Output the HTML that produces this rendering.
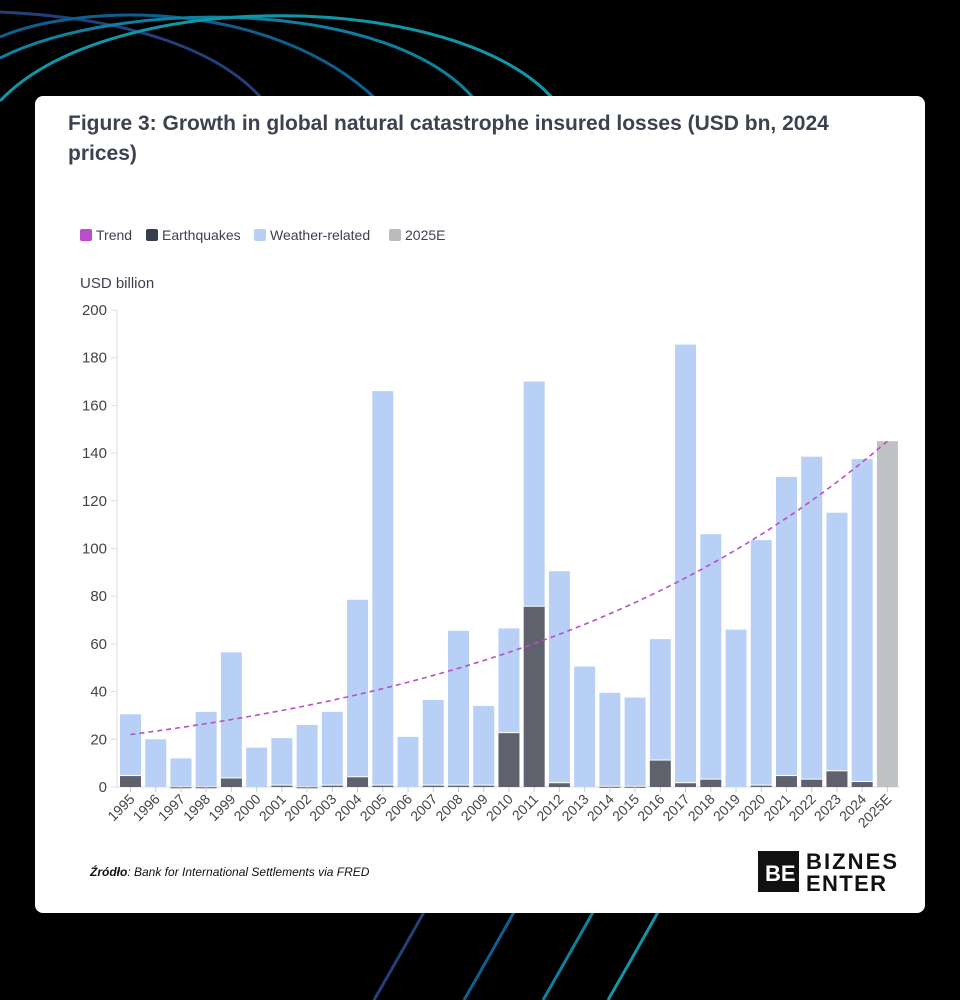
<!DOCTYPE html>
<html><head><meta charset="utf-8"><style>
html,body{margin:0;padding:0;background:#000;width:960px;height:1000px;overflow:hidden;font-family:"Liberation Sans",sans-serif}
svg{display:block}
</style></head><body>
<svg width="960" height="1000" viewBox="0 0 960 1000" xmlns="http://www.w3.org/2000/svg" style="position:absolute;left:0;top:0;overflow:hidden">
<g fill="none" stroke-width="3">
<path d="M0 12 C130 18 220 50 263 100" stroke="#23407a"/>
<path d="M0 37 C80 3 270 -2 377 100" stroke="#0e5f8e"/>
<path d="M0 58 C120 -2 390 -2 475 100" stroke="#0f7fa0"/>
<path d="M0 101 C110 -15 460 -10 554 100" stroke="#1196a8"/>
<path d="M428 905 Q400 955 374 1000" stroke="#23407a"/>
<path d="M518 905 Q490 955 464 1000" stroke="#0e5f8e"/>
<path d="M597 905 Q569 955 543 1000" stroke="#0f7fa0"/>
<path d="M662 905 Q634 955 608 1000" stroke="#1196a8"/>
</g>
<rect x="35" y="96" width="890" height="817" rx="8" fill="#fff"/>
<text x="68" y="130" font-size="21" font-weight="bold" fill="#3d4250">Figure 3: Growth in global natural catastrophe insured losses (USD bn, 2024</text>
<text x="68" y="160" font-size="21" font-weight="bold" fill="#3d4250">prices)</text>
<g font-size="14" fill="#3d4250">
<rect x="80" y="229" width="12" height="12" rx="2" fill="#b94fc8"/><text x="96" y="240">Trend</text>
<rect x="146" y="229" width="12" height="12" rx="2" fill="#3a3d4a"/><text x="162" y="240">Earthquakes</text>
<rect x="254" y="229" width="12" height="12" rx="2" fill="#b8d0f5"/><text x="270" y="240">Weather-related</text>
<rect x="389" y="229" width="12" height="12" rx="2" fill="#bbbbbb"/><text x="405" y="240">2025E</text>
<text x="80" y="288" font-size="15">USD billion</text>
</g>
<g id="axis" font-size="15" fill="#444" text-anchor="end"></g>
<g id="bars"></g>
<g id="xl" font-size="14" fill="#444"></g>
<path id="trend" fill="none" stroke="#b94fc8" stroke-width="1.6" stroke-dasharray="5,4"/>
<text x="90" y="876" font-size="12" font-style="italic" fill="#111"><tspan font-weight="bold">Źródło</tspan>: Bank for International Settlements via FRED</text>
<rect x="758" y="851" width="41" height="41" fill="#111"/>
<text x="765" y="881" font-size="22" font-weight="bold" fill="#fff">BE</text>
<text x="806" y="869" font-size="22" font-weight="bold" fill="#111" textLength="91">BIZNES</text>
<text x="806" y="891" font-size="22" font-weight="bold" fill="#111" textLength="80">ENTER</text>
</svg>
<script>
const ns="http://www.w3.org/2000/svg";
const d=[[30.5,5],[20,0],[12,0.3],[31.5,0.3],[56.5,4],[16.5,0],[20.5,1],[26,0.3],[31.5,1],[78.5,4.5],[166,1],[21,0],[36.5,1],[65.5,1],[34,1],[66.5,23],[170,76],[90.5,2],[50.5,0],[39.5,0.5],[37.5,0.5],[62,11.5],[185.5,2],[106,3.5],[66,0],[103.5,1],[130,5],[138.5,3.5],[115,7],[137.5,2.5],[145,0]];
const y0=787,k=2.385,px=25.23,x0=130.5,w=21;
function el(t,a,p){const e=document.createElementNS(ns,t);for(const q in a)e.setAttribute(q,a[q]);(p||document.querySelector('svg')).appendChild(e);return e}
const ax=document.getElementById('axis');
for(let v=0;v<=200;v+=20){const y=y0-v*k;el('text',{x:107,y:y+5},ax).textContent=v;el('line',{x1:111,x2:117,y1:y,y2:y,stroke:'#ddd'},ax)}
el('line',{x1:117,x2:117,y1:310,y2:787,stroke:'#ddd'},ax);
el('line',{x1:117,x2:900,y1:787,y2:787,stroke:'#ddd'},ax);
const b=document.getElementById('bars'),xl=document.getElementById('xl');
d.forEach((r,i)=>{const cx=x0+i*px,x=cx-w/2;
 if(i==30){el('rect',{x,y:y0-r[0]*k,width:w,height:r[0]*k,fill:'#bfc1c4'},b)}
 else{el('rect',{x,y:y0-r[0]*k,width:w,height:(r[0]-r[1])*k,fill:'#b8d0f5'},b);
  if(r[1]>0)el('rect',{x,y:y0-r[1]*k+1,width:w,height:Math.max(r[1]*k-1,1),fill:'#5f616d'},b)}
 el('line',{x1:cx,x2:cx,y1:787,y2:792,stroke:'#ccc'},b);
 const lab=i==30?'2025E':(1995+i);const t=el('text',{x:cx+5,y:800,'text-anchor':'end',transform:`rotate(-45 ${cx+5} 800)`},xl);t.textContent=lab;});
let p='';for(let i=0;i<=30;i+=0.5){const v=22*Math.pow(145/22,i/30);p+=(i?'L':'M')+(x0+i*px)+','+(y0-v*k)}
document.getElementById('trend').setAttribute('d',p);
</script>
</body></html>
